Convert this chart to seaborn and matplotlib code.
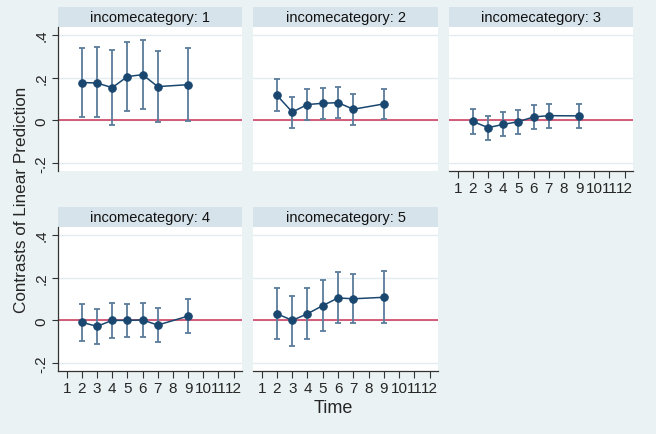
import matplotlib
matplotlib.use("Agg")
import matplotlib.pyplot as plt
import numpy as np
import pandas as pd
import seaborn as sns
from matplotlib.patches import Rectangle

# contrasts of linear prediction by income category, estimates + 95% CI
times = [2, 3, 4, 5, 6, 7, 9]
categories = [1, 2, 3, 4, 5]

est_1 = [0.177, 0.175, 0.153, 0.205, 0.214, 0.158, 0.167]
lo_1 = [0.017, 0.014, -0.020, 0.044, 0.055, -0.009, -0.003]
hi_1 = [0.337, 0.342, 0.328, 0.367, 0.375, 0.325, 0.339]

est_2 = [0.117, 0.039, 0.074, 0.080, 0.083, 0.052, 0.077]
lo_2 = [0.042, -0.034, 0.003, 0.008, 0.013, -0.020, 0.006]
hi_2 = [0.192, 0.110, 0.147, 0.152, 0.155, 0.122, 0.148]

est_3 = [-0.005, -0.034, -0.019, -0.006, 0.016, 0.022, 0.021]
lo_3 = [-0.064, -0.090, -0.073, -0.062, -0.039, -0.034, -0.034]
hi_3 = [0.055, 0.022, 0.037, 0.049, 0.070, 0.077, 0.075]

est_4 = [-0.009, -0.028, 0.000, 0.000, 0.002, -0.022, 0.020]
lo_4 = [-0.095, -0.111, -0.081, -0.080, -0.080, -0.103, -0.061]
hi_4 = [0.075, 0.055, 0.080, 0.078, 0.080, 0.059, 0.101]

est_5 = [0.031, 0.000, 0.031, 0.069, 0.105, 0.101, 0.108]
lo_5 = [-0.087, -0.119, -0.087, -0.048, -0.014, -0.014, -0.014]
hi_5 = [0.150, 0.112, 0.150, 0.187, 0.226, 0.217, 0.231]

x_ticks = list(range(1, 13))
y_ticks = [-0.2, 0, 0.2, 0.4]
y_labels = ["-.2", "0", ".2", ".4"]

ests = [est_1, est_2, est_3, est_4, est_5]
los = [lo_1, lo_2, lo_3, lo_4, lo_5]
his = [hi_1, hi_2, hi_3, hi_4, hi_5]
rows = []
for c, e, l, h in zip(categories, ests, los, his):
    for t, ev, lv, hv in zip(times, e, l, h):
        rows.append({"cat": c, "time": t, "est": ev, "lo": lv, "hi": hv})
df = pd.DataFrame(rows)

sns.set_style("white")
plt.rcParams['font.family'] = ['Liberation Sans', 'DejaVu Sans']

bg = "#EAF2F3"
strip = "#D6E3EA"
navy = "#1A476F"
ci_col = "#5B7C9B"
ref_col = "#CC3355"

W, H = 656, 435
fig = plt.figure(figsize=(W / 100, H / 100), dpi=100, facecolor=bg)

# panel boxes in pixels: left, top, right, bottom of plot region
col_x = [(58, 242), (253, 438), (449, 633)]
row_y = [(28, 172), (228, 372)]

for i, c in enumerate(categories):
    r, k = divmod(i, 3)
    x0, x1 = col_x[k]
    y0, y1 = row_y[r]
    ax = fig.add_axes([x0 / W, 1 - y1 / H, (x1 - x0) / W, (y1 - y0) / H])
    ax.set_facecolor("white")
    sub = df[df["cat"] == c]

    for yt in y_ticks:
        ax.axhline(yt, color="#E1EBF0", lw=1, zorder=0)
    ax.axhline(0, color=ref_col, lw=1.1, zorder=1)

    ax.errorbar(sub["time"], sub["est"],
                yerr=[sub["est"] - sub["lo"], sub["hi"] - sub["est"]],
                fmt="none", ecolor=ci_col, elinewidth=1.3, capsize=2.4,
                capthick=1.3, zorder=2)
    sns.lineplot(data=sub, x="time", y="est", ax=ax, color=navy, lw=1.1,
                 marker="o", markersize=5.4, markeredgecolor=navy,
                 markerfacecolor=navy, zorder=3)

    ax.set_xlim(0.43, 12.55)
    ax.set_ylim(-0.237, 0.437)
    ax.set_xlabel("")
    ax.set_ylabel("")
    for s in ax.spines.values():
        s.set_visible(False)

    # y axis on first column only
    if k == 0:
        ax.spines["left"].set_visible(True)
        ax.spines["left"].set_color("#333333")
        ax.spines["left"].set_linewidth(0.9)
        ax.set_yticks(y_ticks)
        ax.set_yticklabels(y_labels, rotation=90, va="center", fontsize=11)
        ax.tick_params(axis="y", length=4, width=0.8, color="#333333", pad=3, left=True)
    else:
        ax.set_yticks([])

    # x axis where no panel sits below
    if i >= 2:
        ax.spines["bottom"].set_visible(True)
        ax.spines["bottom"].set_color("#333333")
        ax.spines["bottom"].set_linewidth(0.9)
        ax.set_xticks(x_ticks)
        ax.set_xticklabels([str(t) for t in x_ticks], fontsize=11)
        ax.tick_params(axis="x", length=5, width=0.8, color="#333333", pad=2, bottom=True)
    else:
        ax.set_xticks([])

    # strip title
    sh = 20 / (y1 - y0)
    ax.add_patch(Rectangle((0, 1), 1, sh, transform=ax.transAxes,
                           facecolor=strip, edgecolor="none", clip_on=False))
    ax.text(0.5, 1 + sh / 2, f"incomecategory: {c}", transform=ax.transAxes,
            ha="center", va="center", fontsize=10.5, color="#111111")

fig.text(333 / W, 1 - 409 / H, "Time", ha="center", va="center", fontsize=13)
fig.text(22 / W, 1 - 200 / H, "Contrasts of Linear Prediction", ha="center",
         va="center", rotation=90, fontsize=12.3)

fig.savefig("out.png", dpi=100, facecolor=bg)
